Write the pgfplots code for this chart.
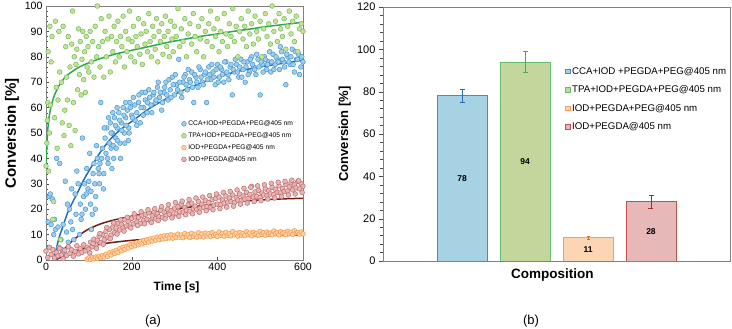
\documentclass[border=0pt]{standalone}
\usepackage{pgfplots}
\pgfplotsset{compat=1.18}
\usepackage{fontspec}
\setmainfont{Liberation Sans}

\definecolor{blueedge}{RGB}{70,150,210}
\definecolor{bluefill}{RGB}{160,205,235}
\definecolor{greenedge}{RGB}{110,190,90}
\definecolor{greenfill}{RGB}{200,225,150}
\definecolor{orangeedge}{RGB}{245,150,70}
\definecolor{orangefill}{RGB}{252,210,165}
\definecolor{rededge}{RGB}{190,110,110}
\definecolor{redfill}{RGB}{232,180,180}
\definecolor{blueline}{RGB}{30,110,185}
\definecolor{greenline}{RGB}{40,170,75}
\definecolor{darkred}{RGB}{110,30,20}
\definecolor{barblue}{RGB}{166,210,228}
\definecolor{barblueedge}{RGB}{70,140,200}
\definecolor{bargreen}{RGB}{195,214,155}
\definecolor{bargreenedge}{RGB}{100,190,110}
\definecolor{barorange}{RGB}{252,213,181}
\definecolor{barorangeedge}{RGB}{245,160,90}
\definecolor{barred}{RGB}{230,185,184}
\definecolor{barrededge}{RGB}{192,80,77}
\definecolor{errblue}{RGB}{40,110,180}
\definecolor{errgreen}{RGB}{60,180,75}
\definecolor{errorange}{RGB}{228,108,10}
\definecolor{errred}{RGB}{150,50,40}
\definecolor{axisgray}{RGB}{128,128,128}

\begin{document}
\begin{tikzpicture}
\useasboundingbox (0,0) rectangle (732pt,329pt);

% ---------- (a) kinetics ----------
\begin{axis}[
  at={(46pt,69pt)}, anchor=south west,
  scale only axis, width=257pt, height=254pt,
  xmin=0, xmax=600, ymin=0, ymax=100,
  xtick={0,200,400,600}, ytick={0,10,...,100},
  minor y tick num=4,
  xtick pos=bottom, ytick pos=left,
  tick align=inside, major tick length=3pt, minor tick length=2pt,
  axis line style={draw=axisgray},
  tick style={draw=black!70},
  /pgf/number format/assume math mode=true,
  tick label style={font=\fontsize{10.6}{12}\selectfont},
  xlabel={Time [s]}, ylabel={Conversion [\%]},
  xlabel style={at={(axis description cs:0.508,0)}, anchor=center, yshift=-27pt, font=\bfseries\fontsize{12}{14}\selectfont},
  ylabel style={at={(axis description cs:-0.132,0.5)}, anchor=center, font=\bfseries\fontsize{15}{18}\selectfont},
  legend style={at={(0.515,0.565)}, anchor=north west, draw=none, fill=none,
    font=\fontsize{6.7}{8}\selectfont, row sep=1.5pt},
  legend cell align=left,
  legend image code/.code={\draw[#1] plot coordinates {(0pt,0pt)};},
]
\addplot[only marks, mark=*, mark size=2.4pt, mark options={fill=bluefill, draw=blueedge, line width=0.5pt}] coordinates {
(5,15)(8,25)(10,26)(12,14)(15,24)(18,10)(20,16)(22,12)(25,40)(28,13)(30,5)(32,38)(35,8)(38,4)(40,14)(42,3)(45,31)(48,11)(50,22)(52,7)(55,20)(58,15)(60,28)(62,12)(65,8)(68,26)(70,18)(72,35)(75,30)(78,10)(80,22)(82,16)(85,48)(88,25)(90,30)(92,20)(95,36)(98,28)(100,31)(102,42)(105,27)(108,18)(110,34)(112,38)(115,20)(118,45)(120,40)(122,36)(125,30)(128,62)(130,40)(132,44)(135,34)(138,48)(140,42)(142,52)(145,38)(148,46)(150,54)(152,44)(155,50)(158,40)(160,56)(163,48)(166,52)(170,58)(173,46)(176,54)(180,60)(183,50)(186,56)(190,59)(193,52)(196,62)(200,57)(204,64)(208,55)(212,58)(216,62)(220,54)(224,66)(228,60)(232,63)(236,58)(240,67)(245,61)(250,65)(255,62)(260,68)(265,64)(270,59)(275,66)(280,70)(285,63)(290,67)(295,72)(300,65)(305,69)(310,79)(315,66)(320,70)(325,73)(330,67)(335,71)(340,74)(345,62)(350,72)(355,68)(360,75)(365,70)(370,73)(375,62)(380,76)(385,71)(390,74)(395,69)(400,77)(405,72)(410,75)(415,70)(420,78)(425,73)(430,76)(435,65)(440,74)(445,77)(450,72)(455,79)(460,75)(465,70)(470,78)(475,74)(480,80)(485,76)(490,73)(495,79)(500,65)(505,77)(510,80)(515,75)(520,78)(525,74)(530,81)(535,77)(540,79)(545,75)(550,82)(555,78)(560,69)(565,80)(570,77)(575,83)(580,74)(585,79)(590,81)(595,76)(600,78)
(152,50)(157,45)(162,53)(167,47)(172,55)(177,51)(182,57)(187,53)(192,47)(197,60)(202,56)(207,61)(212,53)(217,65)(222,60)(227,57)(232,66)(237,62)(242,64)(247,58)(252,66)(257,63)(262,70)(267,66)(272,62)(277,68)(282,65)(287,71)(292,64)(297,69)(302,73)(307,67)(312,70)(317,64)(322,72)(327,69)(332,75)(337,70)(342,68)(347,73)(352,70)(357,76)(362,72)(367,69)(372,74)(377,71)(382,73)(387,77)(392,72)(397,75)(402,70)(407,76)(412,73)(417,78)(422,74)(427,71)(432,77)(437,75)(442,79)(447,74)(452,76)(457,72)(462,78)(467,76)(472,73)(477,79)(482,77)(487,75)(492,81)(497,76)(502,78)(507,74)(512,79)(517,77)(522,82)(527,78)(532,75)(537,80)(542,78)(547,84)(552,79)(557,76)(562,81)(567,78)(572,80)(577,77)(582,82)(587,79)(592,73)(597,80)
(84,18)(94,26)(104,22)(114,30)(124,34)(134,28)(144,40)(154,36)(164,44)(174,40)(184,46)(194,50)(106,12)(116,25)(126,38)(136,52)(146,56)(156,58)(166,60)(186,62)
};
\addlegendentry{CCA+IOD+PEGDA+PEG@405 nm}
\addplot[only marks, mark=*, mark size=2.4pt, mark options={fill=greenfill, draw=greenedge, line width=0.5pt}] coordinates {
(0,37)(2,46)(3,55)(4,62)(5,82)(6,35)(8,50)(9,92)(10,61)(12,78)(14,88)(16,16)(18,23)(20,56)(22,94)(24,68)(26,44)(28,63)(30,90)(32,74)(34,8)(36,70)(38,54)(40,92)(42,49)(44,59)(46,84)(48,72)(50,63)(52,88)(54,53)(56,76)(58,45)(60,85)(62,98)(64,62)(66,80)(68,51)(70,77)(72,83)(74,67)(76,91)(78,73)(80,86)(82,65)(84,79)(86,90)(88,71)(90,82)(92,66)(94,88)(96,76)(98,84)(100,74)(103,90)(106,78)(109,86)(112,72)(115,92)(118,80)(120,100)(123,84)(126,76)(129,95)(132,86)(135,72)(138,90)(141,80)(144,87)(147,96)(150,74)(153,88)(156,82)(159,92)(162,78)(165,86)(168,94)(171,80)(174,88)(177,84)(180,96)(183,76)(186,90)(189,82)(192,87)(195,98)(198,80)(201,86)(204,92)(207,78)(210,88)(213,84)(216,95)(219,81)(222,89)(225,77)(228,93)(231,85)(234,90)(237,82)(240,97)(243,86)(246,80)(249,92)(252,88)(255,83)(258,95)(261,78)(264,90)(267,86)(270,93)(273,81)(276,88)(279,96)(282,84)(285,90)(288,80)(291,94)(294,87)(297,82)(300,92)(304,88)(308,99)(312,84)(316,91)(320,86)(324,95)(328,80)(332,89)(336,93)(340,85)(344,97)(348,88)(352,82)(356,92)(360,87)(364,95)(368,80)(372,90)(376,86)(380,93)(384,98)(388,84)(392,91)(396,88)(400,95)(404,82)(408,90)(412,86)(416,97)(420,89)(424,84)(428,93)(432,88)(436,99)(440,86)(444,92)(448,80)(452,90)(456,95)(460,87)(464,92)(468,84)(472,98)(476,89)(480,93)(484,85)(488,96)(492,90)(496,87)(500,94)(504,80)(508,91)(512,97)(516,88)(520,93)(524,85)(528,100)(532,90)(536,94)(540,86)(544,97)(548,91)(552,88)(556,95)(560,83)(564,92)(568,98)(572,89)(576,94)(580,86)(584,96)(588,82)(592,91)(596,93)(600,90)
};
\addlegendentry{TPA+IOD+PEGDA+PEG@405 nm}
\addplot[only marks, mark=*, mark size=2.4pt, mark options={fill=orangefill, draw=orangeedge, line width=0.5pt}] coordinates {
(96,0.3)(100,0.8)(104,0.2)(108,1.0)(112,0.5)(116,1.2)(120,0.6)(124,1.5)(128,0.9)(132,1.8)(136,1.2)(140,2.2)(144,1.5)(148,2.8)(152,2.0)(156,3.2)(160,2.6)(164,3.8)(168,3.0)(172,4.4)(176,3.6)(180,5.0)(184,4.2)(188,5.4)(192,4.7)(196,6.0)(200,5.2)(204,6.3)(208,5.6)(212,6.8)(216,6.0)(220,7.2)(224,6.4)(228,7.6)(232,6.9)(236,8.0)(240,7.1)(244,8.3)(248,7.5)(252,8.6)(256,7.8)(260,9.0)(264,8.0)(268,9.2)(272,8.3)(276,9.5)(280,8.4)(284,9.6)(288,8.7)(292,9.9)(296,8.6)(300,9.7)(304,8.9)(308,10.2)(312,9.0)(316,9.8)(320,8.8)(324,10.4)(328,9.2)(332,9.9)(336,8.9)(340,10.5)(344,9.3)(348,10.1)(352,9.0)(356,10.7)(360,9.4)(364,10.2)(368,9.1)(372,10.6)(376,9.5)(380,10.3)(384,9.2)(388,10.8)(392,9.6)(396,10.1)(400,9.3)(404,11.0)(408,9.8)(412,10.4)(416,9.4)(420,10.9)(424,9.7)(428,10.3)(432,9.5)(436,11.2)(440,9.9)(444,10.5)(448,9.4)(452,10.8)(456,9.8)(460,10.4)(464,9.6)(468,11.1)(472,10.0)(476,10.6)(480,9.5)(484,10.9)(488,10.1)(492,10.5)(496,9.7)(500,11.3)(504,10.2)(508,10.7)(512,9.8)(516,11.0)(520,10.3)(524,10.6)(528,9.9)(532,11.4)(536,10.4)(540,10.8)(544,9.9)(548,11.1)(552,10.5)(556,10.7)(560,10.0)(564,11.3)(568,10.4)(572,10.9)(576,10.1)(580,11.5)(584,10.6)(588,10.8)(592,10.2)(596,11.0)(600,10.3)
};
\addlegendentry{IOD+PEGDA+PEG@405 nm}
\addplot[only marks, mark=*, mark size=2.4pt, mark options={fill=redfill, draw=rededge, line width=0.5pt}] coordinates {
(0,3.5)(4,1.0)(8,5.0)(12,2.2)(16,4.1)(20,0.8)(24,3.0)(28,1.6)(32,4.6)(36,2.0)(40,0.5)(44,3.8)(48,1.8)(52,5.2)(56,2.6)(60,4.0)(64,1.5)(68,3.4)(72,5.6)(76,2.4)(80,4.4)(84,3.0)(88,6.0)(92,3.6)(96,5.0)(100,4.2)(104,7.0)(108,5.2)(112,8.2)(116,6.0)(120,7.8)(124,9.4)(128,6.8)(132,10.0)(136,8.0)(140,11.2)(144,9.0)(148,12.0)(152,9.8)(156,13.0)(160,10.8)(164,12.6)(168,14.4)(172,11.8)(176,14.0)(180,12.6)(184,15.8)(188,13.4)(192,15.2)(196,13.0)(200,16.4)(204,14.2)(208,17.0)(212,15.0)(216,16.8)(220,14.4)(224,17.6)(228,15.6)(232,18.0)(236,16.0)(240,18.6)(244,15.4)(248,17.4)(252,19.0)(256,16.2)(260,18.2)(264,17.0)(268,19.6)(272,16.8)(276,18.8)(280,17.4)(284,20.0)(288,18.0)(292,19.4)(296,17.2)(300,20.4)(304,18.4)(308,21.0)(312,19.0)(316,22.0)(320,18.8)(324,20.6)(328,19.6)(332,21.8)(336,19.2)(340,22.4)(344,20.2)(348,21.2)(352,19.8)(356,23.0)(360,20.4)(364,22.0)(368,20.8)(372,23.4)(376,21.0)(380,22.6)(384,20.6)(388,23.8)(392,21.6)(396,24.2)(400,22.0)(404,24.8)(408,21.8)(412,23.6)(416,22.4)(420,25.2)(424,22.8)(428,24.4)(432,23.0)(436,25.6)(440,22.6)(444,24.6)(448,23.6)(452,26.0)(456,23.4)(460,25.2)(464,24.0)(468,26.6)(472,24.2)(476,25.8)(480,29.0)(484,24.8)(488,26.8)(492,25.0)(496,27.4)(500,24.6)(504,26.4)(508,25.6)(512,28.0)(516,25.4)(520,27.2)(524,26.0)(528,28.6)(532,25.8)(536,27.8)(540,26.6)(544,29.2)(548,26.4)(552,28.2)(556,27.0)(560,29.8)(564,27.2)(568,28.8)(572,30.4)(576,27.6)(580,29.6)(584,28.4)(588,31.0)(592,28.0)(596,30.0)(600,29.0)
(102,2.8)(110,6.5)(118,4.6)(126,10.4)(134,6.2)(142,12.8)(150,8.4)(158,14.6)(166,10.2)(174,15.8)(182,11.4)(190,16.8)(198,12.6)(206,18.2)(214,13.6)(222,19.0)(230,14.2)(238,19.8)(246,14.8)(254,20.2)(262,15.6)(270,21.0)(278,16.2)(286,21.8)(294,16.6)(302,22.6)(310,17.2)(318,23.2)(326,17.8)(334,23.8)(342,18.2)(350,24.4)(358,18.8)(366,24.8)(374,19.4)(382,25.4)(390,19.8)(398,26.0)(406,20.2)(414,26.6)(422,20.8)(430,27.0)(438,21.2)(446,27.6)(454,22.0)(462,28.2)(470,22.4)(478,28.6)(486,23.0)(494,29.2)(502,23.4)(510,29.6)(518,24.0)(526,30.2)(534,24.4)(542,30.6)(550,25.0)(558,31.0)(566,25.6)(574,31.4)(582,26.0)(590,31.2)(598,26.6)
};
\addlegendentry{IOD+PEGDA@405 nm}
% fitted curves
\addplot[blueline, line width=1.5pt, smooth, forget plot] coordinates {
(18,0)(25,5)(30,8.5)(40,13.5)(50,18.4)(60,22)(75,27)(88,31.5)(100,35)(125,42)(150,47.5)(175,51.5)(204,55)(240,59.5)(282,63.6)(320,66.8)(359,69.5)(400,72)(437,73.8)(480,75.4)(514,76.4)(560,77.6)(600,78.7)};
\addplot[greenline, line width=1.5pt, smooth, forget plot] coordinates {
(0,38)(2,45)(4,51)(7,56)(10,59)(15,62.5)(20,65)(30,68.5)(40,71)(50,72.8)(70,75.2)(88,76.8)(110,78.3)(127,79.3)(160,81)(204,82.7)(240,84)(282,85.6)(320,86.8)(359,88)(400,89)(437,90)(480,91)(514,91.9)(560,92.8)(600,93.6)};
\addplot[darkred, line width=1.5pt, smooth, forget plot] coordinates {
(22,0)(30,1.8)(40,3.8)(50,5.6)(60,7.3)(75,9.4)(88,11)(100,12.2)(127,14.2)(160,15.8)(204,17.4)(240,18.5)(282,19.6)(320,20.5)(359,21.3)(400,22.1)(437,22.8)(480,23.4)(520,23.8)(560,24.1)(600,24.3)};
\addplot[darkred, line width=1.5pt, smooth, forget plot] coordinates {
(22,0)(40,1.5)(60,3)(88,4.6)(127,6.2)(160,7)(204,7.8)(250,8.3)(300,8.8)(359,9.1)(400,9.3)(450,9.5)(500,9.6)(550,9.7)(600,9.8)};
\end{axis}

% ---------- (b) final conversion ----------
\begin{axis}[
  at={(383pt,68pt)}, anchor=south west,
  scale only axis, width=347pt, height=254pt,
  xmin=-0.254, xmax=5.254, ymin=0, ymax=120,
  xtick=\empty, ytick={0,20,...,120}, minor y tick num=4,
  ytick pos=left, tick align=outside,
  major tick length=4pt, minor tick length=3pt,
  axis line style={draw=axisgray},
  tick style={draw=black!70},
  /pgf/number format/assume math mode=true,
  tick label style={font=\fontsize{11}{13}\selectfont},
  xlabel={Composition}, ylabel={Conversion [\%]},
  xlabel style={at={(axis description cs:0.488,0)}, anchor=center, yshift=-14pt, font=\bfseries\fontsize{13.5}{16}\selectfont},
  ylabel style={at={(axis description cs:-0.11,0.5)}, anchor=center, font=\bfseries\fontsize{13}{16}\selectfont},
  legend style={at={(0.515,0.78)}, anchor=north west, draw=none, fill=none,
    font=\fontsize{9.7}{11}\selectfont, row sep=6pt},
  legend cell align=left,
]
\addplot[ybar, bar width=50pt, bar shift=0pt, fill=barblue, draw=barblueedge, line width=0.8pt,
  legend image code/.code={\draw[fill=barblue, draw=barblueedge, line width=0.6pt] (0pt,-2.3pt) rectangle (4.6pt,2.3pt);},
  error bars/.cd, y dir=both, y explicit,
  error bar style={line width=1pt, errblue},
  error mark options={rotate=90, mark size=2.5pt, line width=0.8pt, errblue}]
  coordinates {(1,78) +- (0,3.3)};
\addlegendentry{CCA+IOD +PEGDA+PEG@405 nm}
\addplot[ybar, bar width=50pt, bar shift=0pt, fill=bargreen, draw=bargreenedge, line width=0.8pt,
  legend image code/.code={\draw[fill=bargreen, draw=bargreenedge, line width=0.6pt] (0pt,-2.3pt) rectangle (4.6pt,2.3pt);},
  error bars/.cd, y dir=both, y explicit,
  error bar style={line width=1pt, errgreen},
  error mark options={rotate=90, mark size=2.5pt, line width=0.8pt, errgreen}]
  coordinates {(2,94) +- (0,4.8)};
\addlegendentry{TPA+IOD+PEGDA+PEG@405 nm}
\addplot[ybar, bar width=50pt, bar shift=0pt, fill=barorange, draw=barorangeedge, line width=0.8pt,
  legend image code/.code={\draw[fill=barorange, draw=barorangeedge, line width=0.6pt] (0pt,-2.3pt) rectangle (4.6pt,2.3pt);},
  error bars/.cd, y dir=both, y explicit,
  error bar style={line width=1pt, errorange},
  error mark options={rotate=90, mark size=1.5pt, line width=0.8pt, errorange}]
  coordinates {(3,11) +- (0,0.6)};
\addlegendentry{IOD+PEGDA+PEG@405 nm}
\addplot[ybar, bar width=50pt, bar shift=0pt, fill=barred, draw=barrededge, line width=0.8pt,
  legend image code/.code={\draw[fill=barred, draw=barrededge, line width=0.6pt] (0pt,-2.3pt) rectangle (4.6pt,2.3pt);},
  error bars/.cd, y dir=both, y explicit,
  error bar style={line width=1pt, errred},
  error mark options={rotate=90, mark size=2.5pt, line width=0.8pt, errred}]
  coordinates {(4,28) +- (0,3)};
\addlegendentry{IOD+PEGDA@405 nm}
\addplot[only marks, mark=none, forget plot, point meta=explicit symbolic, nodes near coords,
  every node near coord/.append style={anchor=center, font=\bfseries\fontsize{8.5}{10}\selectfont}]
  coordinates {(1,39)[78] (2,47)[94] (3,5.5)[11] (4,14)[28]};
\end{axis}

\node[font=\fontsize{13}{15}\selectfont] at (153pt,8pt) {(a)};
\node[font=\fontsize{13}{15}\selectfont] at (531pt,8pt) {(b)};
\end{tikzpicture}
\end{document}
